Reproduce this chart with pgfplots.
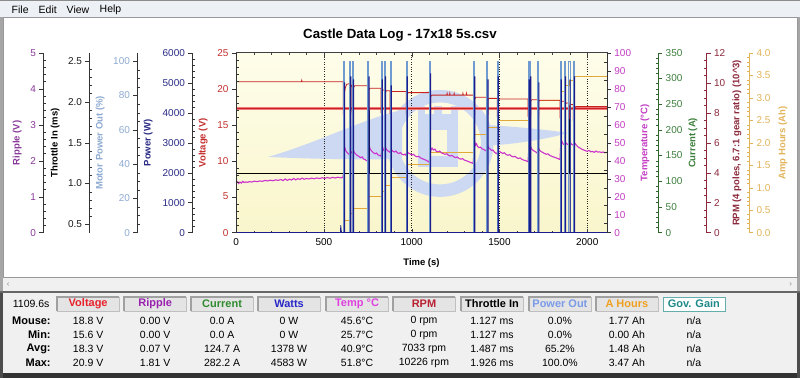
\documentclass[border=0pt]{standalone}
\usepackage{pgfplots}
\pgfplotsset{compat=1.18}
\usepackage{fontspec}
\setmainfont{Liberation Sans}

\definecolor{winbg}{HTML}{F0F0F0}
\definecolor{menubg}{HTML}{EDF0F4}
\definecolor{cRip}{HTML}{8A3A9A}
\definecolor{cThr}{HTML}{1A1A1A}
\definecolor{cMpo}{HTML}{8EAAD2}
\definecolor{cPow}{HTML}{2A2A86}
\definecolor{cVol}{HTML}{C43030}
\definecolor{cTmp}{HTML}{C43CC4}
\definecolor{cCur}{HTML}{3C7F3C}
\definecolor{cRpm}{HTML}{8C2A3C}
\definecolor{cAh}{HTML}{E2B45A}
\definecolor{lVol}{HTML}{C82222}
\definecolor{lTmp}{HTML}{CC33CC}
\definecolor{lMpo}{HTML}{6F9BD1}
\definecolor{lPow}{HTML}{1C1C8C}
\definecolor{lAh}{HTML}{E0A838}
\definecolor{bandc}{HTML}{F07878}
\definecolor{wm}{HTML}{CDD9F3}
\definecolor{bgtop}{HTML}{FEFDEA}
\definecolor{bgbot}{HTML}{F9F6CC}
\definecolor{hdrbg}{HTML}{E4E4E4}
\definecolor{hdrdk}{HTML}{A0A0A0}
\definecolor{hVol}{HTML}{E8202A}
\definecolor{hRip}{HTML}{9A20B0}
\definecolor{hCur}{HTML}{2E8B2E}
\definecolor{hWat}{HTML}{2828C8}
\definecolor{hTmp}{HTML}{E040E0}
\definecolor{hRpm}{HTML}{B82030}
\definecolor{hPwo}{HTML}{7A9AE8}
\definecolor{hAh}{HTML}{F0A020}
\definecolor{hGov}{HTML}{208A8A}

\newcommand\tickfont{\fontsize{10}{12}\selectfont}
\newcommand\labfont{\fontsize{9.5}{11}\selectfont\bfseries}
\newcommand\statrm{\fontsize{10.5}{12}\selectfont}
\newcommand\statbf{\fontsize{11}{12}\selectfont\bfseries}

\pgfplotsset{
  every axis/.append style={
    /pgf/number format/assume math mode=true,
    /pgf/number format/1000 sep={},
    scaled ticks=false,
    tick label style={font=\tickfont},
  },
  geom/.style={scale only axis, width=371pt, height=180pt, anchor=south west,
    at={(236pt,145.3pt)}, xmin=0, xmax=2112},
  dat/.style={geom, hide axis},
  sidebase/.style={scale only axis, width=1pt, height=180pt, xmin=0, xmax=1,
    axis x line=none, tick align=outside, major tick length=4pt,
    minor tick length=2.5pt, axis line style={-, black!80}, tick style={black!80}},
  sidel/.style={sidebase, anchor=south west, axis y line*=left,
    minor tick style={xshift=2.5pt}},
  sider/.style={sidebase, anchor=south east, axis y line*=right,
    minor tick style={xshift=-2.5pt}},
  onedec/.style={yticklabel style={/pgf/number format/fixed,
    /pgf/number format/fixed zerofill, /pgf/number format/precision=1}},
}

\newcommand\statcol[7]{%
  \fill[hdrbg] (#1,67) rectangle ++(62,14);
  \draw[hdrdk, line width=1.5pt] (#1,67) -- (#1,81) -- ++(62,0);
  \draw[black!25] (#1+62,81) -- (#1+62,67) -- (#1,67);
  \node[font=\statbf, text=#3] at (#1+31,74) {#2};
  \node[font=\statrm] at (#1+31,57) {#4};
  \node[font=\statrm] at (#1+31,43) {#5};
  \node[font=\statrm] at (#1+31,29) {#6};
  \node[font=\statrm] at (#1+31,15) {#7};
}

\begin{document}
\begin{tikzpicture}[x=1pt,y=1pt]
% ---------- window chrome ----------
\fill[winbg] (0,0) rectangle (800,378);
\fill[menubg] (0,361) rectangle (800,378);
\draw[black!45] (0,377.5) -- (800,377.5);
\node[font=\statrm, anchor=west] at (8,368.5) {File};
\node[font=\statrm, anchor=west] at (35,368.5) {Edit};
\node[font=\statrm, anchor=west] at (63,368.5) {View};
\node[font=\statrm, anchor=west] at (96,368.5) {Help};
\fill[black!35] (0,86) rectangle (3,361);
\fill[black!35] (797,86) rectangle (800,361);
\fill[white] (3,101) rectangle (797,360);
\draw[black!40] (3,101) rectangle (797,360.5);
\node[font=\fontsize{8}{8}\selectfont, text=black!45] at (8,93) {‹};
\node[font=\fontsize{8}{8}\selectfont, text=black!45] at (791,93) {›};
\fill[black!60] (0,84.5) rectangle (800,87);
\fill[black!80] (0,0) rectangle (800,5);
\fill[black!70] (0,0) rectangle (2.5,85);
\fill[black!70] (797.5,0) rectangle (800,85);

% ---------- stats table ----------
\node[font=\statrm] at (31,74) {1109.6s};
\node[font=\statbf, anchor=east] at (54,57) {Mouse:};
\node[font=\statbf, anchor=east] at (54,43) {Min:};
\node[font=\statbf, anchor=east] at (54,29) {Avg:};
\node[font=\statbf, anchor=east] at (54,15) {Max:};
\statcol{57}{Voltage}{hVol}{18.8 V}{15.6 V}{18.3 V}{20.9 V}
\statcol{124}{Ripple}{hRip}{0.00 V}{0.00 V}{0.07 V}{1.81 V}
\statcol{191}{Current}{hCur}{0.0 A}{0.0 A}{124.7 A}{282.2 A}
\statcol{258}{Watts}{hWat}{0 W}{0 W}{1378 W}{4583 W}
\statcol{326}{Temp °C}{hTmp}{45.6°C}{25.7°C}{40.9°C}{51.8°C}
\statcol{393}{RPM}{hRpm}{0 rpm}{0 rpm}{7033 rpm}{10226 rpm}
\statcol{461}{Throttle In}{black}{1.127 ms}{1.127 ms}{1.487 ms}{1.926 ms}
\statcol{529}{Power Out}{hPwo}{0.0\%}{0.0\%}{65.2\%}{100.0\%}
\statcol{596}{A Hours}{hAh}{1.77 Ah}{0.00 Ah}{1.48 Ah}{3.47 Ah}
\fill[white] (663,67) rectangle (725,81);
\draw[hGov!70] (663,67) rectangle (725,81);
\node[font=\statbf, text=hGov] at (694,74) {Gov. Gain};
\foreach \yy in {57,43,29,15} {\node[font=\statrm] at (694,\yy) {n/a};}

% ---------- plot background + watermark ----------
\shade[top color=bgtop, bottom color=bgbot] (236,145.3) rectangle (607,325.3);
\fill[wm] (268,221) .. controls (320,236) and (360,258) .. (402,268)
   -- (402,219) .. controls (360,218) and (310,219) .. cycle;
\fill[wm, even odd rule] (440,234.5) circle (53.5) (440,234.5) circle (41);
\fill[wm] (486,253) .. controls (520,251) and (548,248) .. (568,245)
   .. controls (548,239) and (518,234) .. (486,232) -- cycle;
\fill[wm] (418,211) rectangle (458,264);
\fill[wm] (418,264) rectangle (425,272);
\fill[wm] (434,264) rectangle (442,272);
\fill[wm] (451,264) rectangle (458,272);
\fill[bgbot!70!white] (429,222) rectangle (447,248);

% ---------- frame axis (x ticks, grid) ----------
\begin{axis}[geom, ymin=0, ymax=25, ytick=\empty,
  xtick={0,500,1000,1500,2000}, minor x tick num=4, xtick pos=both,
  tick align=inside, major tick length=4pt, minor tick length=2pt,
  xmajorgrids, major grid style={dotted, black!85},
  axis line style={black!75}, tick style={black!75},
  xticklabel style={yshift=-2pt}]
\addplot[draw=none] coordinates {(0,0)};
\end{axis}

% ---------- data: amp hours ----------
\begin{axis}[dat, ymin=0, ymax=4]
\addplot[lAh, line width=0.8pt, const plot] coordinates {
(0,0)(614,0.27)(650,0.42)(665,0.54)(754,0.80)(829,0.91)(848,1.06)(880,1.22)
(972,1.52)(1106,1.78)(1356,2.19)(1431,2.34)(1490,2.49)(1666,2.63)(1675,2.78)
(1721,2.94)(1848,3.14)(1873,3.27)(1899,3.38)(1924,3.47)(2112,3.47)};
\end{axis}

% ---------- data: temperature ----------
\begin{axis}[dat, ymin=0, ymax=100]
\addplot[lTmp, line width=1.1pt] coordinates {
(0,27.6)(8,28.3)(15,27.3)(22,28.1)(30,27.5)(38,28.5)(46,27.8)(55,28.2)(65,27.9)(75,28.3)
(90,28.1)(105,28.6)(120,28.3)(135,28.7)(150,28.5)(165,29.0)(180,28.7)(195,29.1)(210,28.8)
(225,29.3)(240,29.0)(255,29.5)(268,28.9)(280,29.8)(292,29.0)(304,29.7)(316,29.2)(328,30.1)
(340,29.3)(352,30.0)(364,29.5)(376,30.3)(388,29.6)(400,30.1)(415,29.8)(430,30.3)(445,29.9)
(460,30.4)(475,30.0)(490,30.5)(505,30.1)(520,30.6)(535,30.2)(550,30.7)(565,30.3)(580,30.8)
(595,30.4)(608,30.6)
(612,33)(616,46)(619,47.3)(624,45.6)(630,44.8)(636,44.2)(642,43.6)(647,43.3)(651,45.5)
(656,44.6)(662,44.2)(666,46.2)(672,44.8)(680,43.7)(690,42.9)(700,42.3)(710,41.6)(718,42.1)
(726,40.9)(734,40.6)(742,40.1)(750,39.6)
(754,44)(758,48.3)(764,46.4)(772,45.3)(782,44.4)(792,43.8)(800,44.2)(808,43.2)(818,42.8)(826,42.4)
(830,46.5)(834,47.6)(840,45.8)(845,45.3)(849,47.9)(855,46.4)(862,45.6)(870,45.0)(877,44.6)
(881,46.9)(887,45.7)(895,45.1)(903,44.8)(911,45.3)(919,44.3)(928,44.0)(937,44.4)(946,43.5)
(955,43.2)(962,43.6)(969,42.8)
(973,45.2)(980,44.3)(990,43.8)(1000,43.2)(1010,43.5)(1020,42.6)(1030,42.1)(1040,42.4)
(1050,41.6)(1060,41.1)(1070,40.7)(1080,40.3)(1090,39.8)(1100,39.1)
(1106,44.5)(1110,45.8)(1116,47.0)(1124,45.9)(1132,46.4)(1140,45.2)(1150,44.9)(1160,45.3)
(1170,44.3)(1180,43.9)(1190,43.5)(1200,43.8)(1210,42.9)(1220,42.6)(1230,42.9)(1240,42.1)
(1250,41.7)(1260,42.0)(1270,41.2)(1280,40.8)(1290,41.1)(1300,40.3)(1310,40.0)(1320,39.6)
(1330,39.2)(1340,38.8)(1350,38.4)
(1356,46)(1360,50.1)(1365,48.6)(1370,49.3)(1376,47.8)(1384,47.2)(1392,47.5)(1400,46.6)
(1410,46.2)(1420,45.6)(1428,45.2)
(1432,48.6)(1438,47.2)(1446,46.5)(1455,45.7)(1463,45.9)(1471,44.8)(1480,44.1)(1487,43.7)
(1491,46.1)(1498,45.2)(1508,44.6)(1518,44.0)(1528,44.4)(1538,43.4)(1548,43.0)(1558,43.3)
(1568,42.5)(1578,42.1)(1588,42.4)(1598,41.6)(1608,41.2)(1618,41.5)(1628,40.7)(1638,40.3)
(1648,40.0)(1656,39.7)(1663,39.4)
(1667,46.4)(1671,45.8)(1676,48.2)(1682,46.7)(1690,45.8)(1698,45.3)(1706,44.9)(1712,44.4)(1718,44.0)
(1722,47.1)(1728,45.9)(1736,45.1)(1746,44.6)(1756,44.0)(1766,43.5)(1776,43.8)(1786,42.9)
(1796,42.5)(1806,42.1)(1816,41.8)(1826,41.4)(1836,41.0)(1845,40.6)
(1849,49)(1852,51.6)(1858,50.2)(1864,49.1)(1870,48.8)(1874,50.7)(1880,49.6)(1888,49.0)
(1896,48.9)(1899,51.1)(1905,49.8)(1913,48.9)(1921,48.6)(1925,50.2)(1932,49.4)(1940,48.3)
(1950,47.4)(1960,46.9)(1970,46.3)(1980,45.9)(1990,45.5)(2000,45.2)(2010,45.7)(2020,44.9)
(2030,45.1)(2040,44.6)(2050,45.3)(2060,44.7)(2070,44.9)(2080,44.5)(2090,44.8)(2100,44.4)(2112,44.6)};
\end{axis}

% ---------- data: throttle ----------
\begin{axis}[dat, ymin=0.4, ymax=2.6]
\addplot[black, line width=0.8pt] coordinates {
(0,1.127)(611,1.127)(611,1.926)(617,1.926)(617,1.127)(647,1.127)(647,1.926)(653,1.926)(653,1.127)
(662,1.127)(662,1.926)(668,1.926)(668,1.127)(751,1.127)(751,1.926)(757,1.926)(757,1.127)
(826,1.127)(826,1.926)(832,1.926)(832,1.127)(845,1.127)(845,1.926)(851,1.926)(851,1.127)
(877,1.127)(877,1.926)(883,1.926)(883,1.127)(969,1.127)(969,1.926)(975,1.926)(975,1.127)
(1103,1.127)(1103,1.926)(1109,1.926)(1109,1.127)(1353,1.127)(1353,1.926)(1359,1.926)(1359,1.127)
(1428,1.127)(1428,1.926)(1434,1.926)(1434,1.127)(1487,1.127)(1487,1.926)(1493,1.926)(1493,1.127)
(1663,1.127)(1663,1.926)(1669,1.926)(1669,1.127)(1672,1.127)(1672,1.926)(1678,1.926)(1678,1.127)
(1718,1.127)(1718,1.926)(1724,1.926)(1724,1.127)(1845,1.127)(1845,1.926)(1851,1.926)(1851,1.127)
(1870,1.127)(1870,1.926)(1876,1.926)(1876,1.127)(1896,1.127)(1896,1.926)(1902,1.926)(1902,1.127)
(1921,1.127)(1921,1.926)(1927,1.926)(1927,1.127)(2112,1.127)};
\end{axis}

% ---------- data: voltage + cutoff band ----------
\begin{axis}[dat, ymin=0, ymax=25]
\addplot[bandc, line width=3pt] coordinates {(0,17.2)(2112,17.2)};
\addplot[lVol, line width=0.8pt] coordinates {(0,17.2)(2112,17.2)};
\addplot[lVol, line width=0.8pt] coordinates {
(0,20.95)(372,20.95)(374,21.15)(376,20.95)(611,20.95)(611,16.6)(617,16.8)(617,19.4)(622,20.1)
(630,20.6)(647,20.7)(647,16.7)(653,16.8)(653,20.2)(658,20.5)(662,20.5)(662,16.6)(668,16.7)
(668,20.1)(675,20.4)(751,20.4)(751,16.6)(757,16.7)(757,19.8)(762,20.05)(826,20.05)(826,16.7)
(832,16.8)(832,19.7)(836,19.8)(845,19.8)(845,16.6)(851,16.7)(851,19.5)(856,19.7)(877,19.7)
(877,16.6)(883,16.7)(883,19.4)(888,19.6)(969,19.6)(969,16.5)(975,16.6)(975,19.3)(980,19.45)
(1103,19.45)(1103,16.4)(1109,16.5)(1109,18.9)(1115,19.1)(1200,19.1)(1202,19.35)(1204,19.1)
(1215,19.1)(1217,19.35)(1219,19.1)(1240,19.1)(1242,19.35)(1244,19.1)(1290,19.1)(1292,19.35)
(1294,19.1)(1310,19.1)(1312,19.35)(1314,19.1)(1353,19.1)(1353,16.3)(1359,16.4)(1359,18.5)
(1365,18.8)(1428,18.8)(1428,16.3)(1434,16.4)(1434,18.45)(1440,18.65)(1487,18.65)(1487,16.2)
(1493,16.3)(1493,18.4)(1499,18.57)(1663,18.57)(1663,16.2)(1669,16.3)(1669,18.4)(1672,18.4)
(1672,16.1)(1678,16.2)(1678,18.3)(1684,18.45)(1718,18.45)(1718,16.1)(1724,16.2)(1724,18.25)
(1730,18.4)(1845,18.4)(1845,16.0)(1851,16.1)(1851,18.1)(1856,18.25)(1870,18.25)(1870,15.9)
(1876,16.0)(1876,17.85)(1881,18.0)(1896,18.0)(1896,15.8)(1902,15.9)(1902,17.6)(1907,17.8)
(1921,17.8)(1921,15.6)(1927,15.7)(1927,17.3)(1935,17.5)(2112,17.5)};
\end{axis}

% ---------- data: motor power out ----------
\begin{axis}[dat, ymin=0, ymax=105]
\addplot[lMpo, line width=1pt] coordinates {
(0,0)(611,0)(611,100)(617,100)(617,0)(647,0)(647,100)(653,100)(653,0)(662,0)(662,100)(668,100)(668,0)
(751,0)(751,100)(757,100)(757,0)(826,0)(826,100)(832,100)(832,0)(845,0)(845,100)(851,100)(851,0)
(877,0)(877,100)(883,100)(883,0)(969,0)(969,100)(975,100)(975,0)(1103,0)(1103,100)(1109,100)(1109,0)
(1353,0)(1353,100)(1359,100)(1359,0)(1428,0)(1428,100)(1434,100)(1434,0)(1487,0)(1487,100)(1493,100)(1493,0)
(1663,0)(1663,100)(1669,100)(1669,0)(1672,0)(1672,100)(1678,100)(1678,0)(1718,0)(1718,100)(1724,100)(1724,0)
(1845,0)(1845,100)(1851,100)(1851,0)(1870,0)(1870,100)(1876,100)(1876,0)(1896,0)(1896,100)(1902,100)(1902,0)
(1921,0)(1921,100)(1927,100)(1927,0)(2112,0)};
\end{axis}

% ---------- data: power ----------
\begin{axis}[dat, ymin=0, ymax=6000]
\addplot[lPow, line width=0.7pt] coordinates {
(0,0)(594,0)(596,250)(600,0)(616,0)(616,5000)(619,5000)(619,0)(652,0)(652,5200)(655,5200)(655,0)
(667,0)(667,5100)(670,5100)(670,0)(756,0)(756,5200)(759,5200)(759,0)(831,0)(831,5100)(834,5100)(834,0)
(850,0)(850,5200)(853,5200)(853,0)(882,0)(882,4900)(885,4900)(885,0)(974,0)(974,5200)(977,5200)(977,0)
(1107,0)(1107,5300)(1109,5300)(1109,0)(1358,0)(1358,5200)(1361,5200)(1361,0)(1433,0)(1433,5100)(1436,5100)(1436,0)
(1492,0)(1492,5200)(1495,5200)(1495,0)(1668,0)(1668,5100)(1671,5100)(1671,0)(1677,0)(1677,5200)(1680,5200)(1680,0)
(1723,0)(1723,5000)(1726,5000)(1726,0)(1850,0)(1850,5100)(1853,5100)(1853,0)(1875,0)(1875,5200)(1878,5200)(1878,0)
(1901,0)(1901,5100)(1904,5100)(1904,0)(1926,0)(1926,5200)(1929,5200)(1929,0)(2112,0)};
\end{axis}

% ---------- side axes ----------
\begin{axis}[sidel, at={(43.3pt,145.3pt)}, ymin=0, ymax=5, ytick={0,1,2,3,4,5},
  minor y tick num=4, yticklabel style={text=cRip}]
\addplot[draw=none] coordinates {(0,0)};
\end{axis}
\begin{axis}[sidel, at={(89.3pt,145.3pt)}, ymin=0.4, ymax=2.6, ytick={0.5,1.0,1.5,2.0,2.5},
  minor y tick num=4, onedec, yticklabel style={text=cThr}]
\addplot[draw=none] coordinates {(0,1)};
\end{axis}
\begin{axis}[sidel, at={(137.3pt,145.3pt)}, ymin=0, ymax=105, ytick={0,20,40,60,80,100},
  minor y tick num=3, yticklabel style={text=cMpo}]
\addplot[draw=none] coordinates {(0,0)};
\end{axis}
\begin{axis}[sidel, at={(192.3pt,145.3pt)}, ymin=0, ymax=6000, ytick={0,1000,...,6000},
  minor y tick num=4, yticklabel style={text=cPow}]
\addplot[draw=none] coordinates {(0,0)};
\end{axis}
\begin{axis}[sidel, at={(236pt,145.3pt)}, ymin=0, ymax=25, ytick={0,5,...,25},
  minor y tick num=4, yticklabel style={text=cVol}]
\addplot[draw=none] coordinates {(0,0)};
\end{axis}
\begin{axis}[sider, at={(607pt,145.3pt)}, ymin=0, ymax=100, ytick={0,10,...,100},
  minor y tick num=1, yticklabel style={text=cTmp}]
\addplot[draw=none] coordinates {(0,0)};
\end{axis}
\begin{axis}[sider, at={(658.3pt,145.3pt)}, ymin=0, ymax=350, ytick={0,50,...,350},
  minor y tick num=4, yticklabel style={text=cCur}, axis line style={-, cCur!80!black}, tick style={cCur!80!black}]
\addplot[draw=none] coordinates {(0,0)};
\end{axis}
\begin{axis}[sider, at={(706.7pt,145.3pt)}, ymin=0, ymax=12, ytick={0,2,...,12},
  minor y tick num=3, yticklabel style={text=cRpm}, axis line style={-, cRpm}, tick style={cRpm}]
\addplot[draw=none] coordinates {(0,0)};
\end{axis}
\begin{axis}[sider, at={(749.3pt,145.3pt)}, ymin=0, ymax=4, ytick={0,0.5,...,4},
  minor y tick num=4, onedec, yticklabel style={text=cAh}, axis line style={-, cAh}, tick style={cAh}]
\addplot[draw=none] coordinates {(0,0)};
\end{axis}

% ---------- labels and title ----------
\node[font=\fontsize{13.3}{15}\selectfont\bfseries] at (400,342.7) {Castle Data Log - 17x18 5s.csv};
\node[font=\labfont] at (421.5,115.3) {Time (s)};
\node[font=\labfont, text=cRip, rotate=90] at (17,235) {Ripple (V)};
\node[font=\labfont, text=black, rotate=90] at (55,235) {Throttle In (ms)};
\node[font=\labfont, text=cMpo, rotate=90] at (100,235) {Motor Power Out (\%)};
\node[font=\labfont, text=cPow, rotate=90] at (148,235) {Power (W)};
\node[font=\labfont, text=cVol, rotate=90] at (203,235) {Voltage (V)};
\node[font=\labfont, text=cTmp, rotate=90] at (645,235) {Temperature (°C)};
\node[font=\labfont, text=cCur, rotate=90] at (693,235) {Current (A)};
\node[font=\labfont, text=cRpm, rotate=90] at (737,235) {RPM (4 poles, 6.7:1 gear ratio) (10\^{}3)};
\node[font=\labfont, text=cAh, rotate=90] at (783,235) {Amp Hours (Ah)};
\end{tikzpicture}
\end{document}
